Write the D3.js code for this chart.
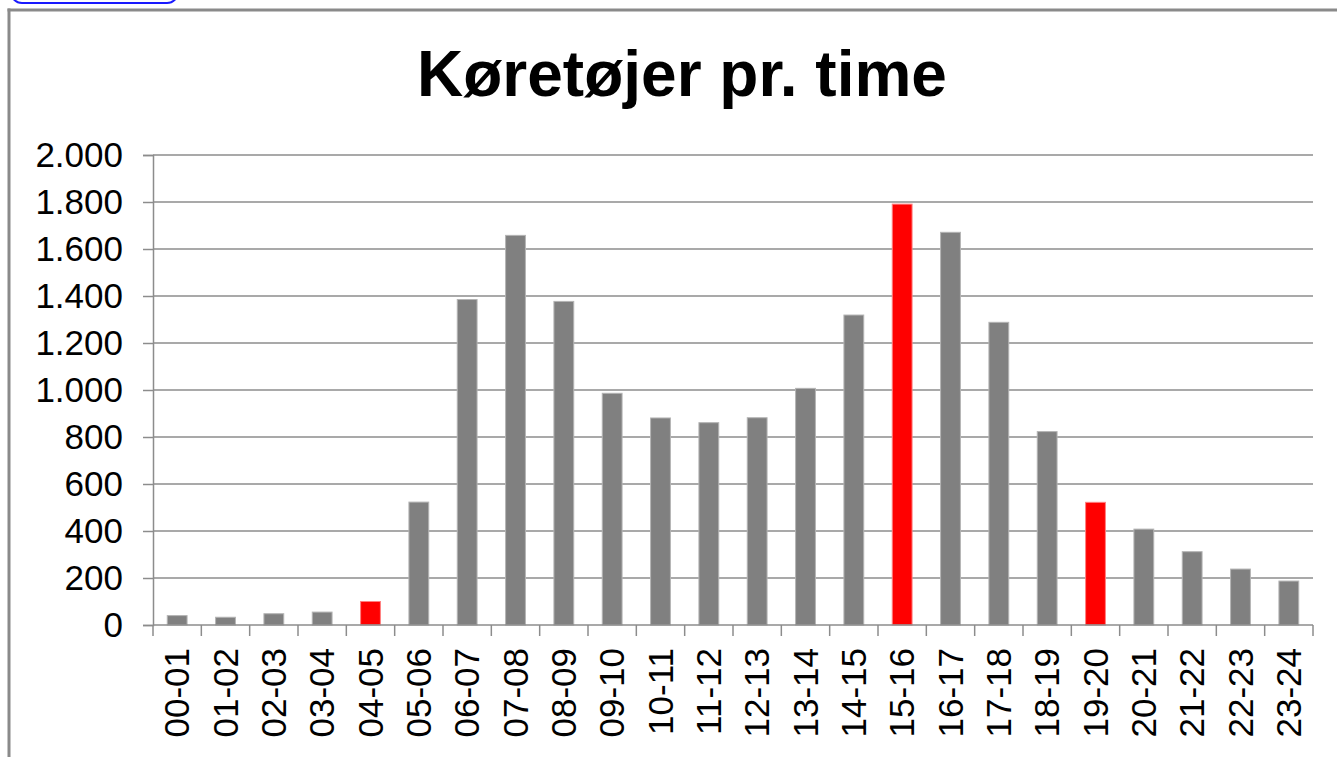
<!DOCTYPE html>
<html>
<head>
<meta charset="utf-8">
<script src="https://cdn.jsdelivr.net/npm/d3@7"></script>
<style>
  html, body { margin: 0; padding: 0; background: #ffffff; }
  svg { display: block; }
  text { font-family: "Liberation Sans", Arial, sans-serif; }
</style>
</head>
<body>
<script>
const title = "Køretøjer pr. time";
const categories = ["00-01","01-02","02-03","03-04","04-05","05-06","06-07","07-08","08-09","09-10","10-11","11-12","12-13","13-14","14-15","15-16","16-17","17-18","18-19","19-20","20-21","21-22","22-23","23-24"];
const values = [40, 33, 48, 55, 100, 523, 1385, 1658, 1377, 986, 881, 861, 882, 1007, 1319, 1791, 1671, 1288, 823, 522, 408, 312, 238, 187];
const highlighted = ["04-05", "15-16", "19-20"];
const yTicks = [0, 200, 400, 600, 800, 1000, 1200, 1400, 1600, 1800, 2000];

const W = 1337, H = 757;
const svg = d3.select("body").append("svg").attr("width", W).attr("height", H);

// outer frame (partial)
svg.append("rect").attr("x", 11).attr("y", -20).attr("width", 167).attr("height", 23)
  .attr("rx", 11).attr("fill", "#fff").attr("stroke", "#1a1aff").attr("stroke-width", 2);
svg.append("line").attr("x1", 9).attr("x2", 9).attr("y1", 8.5).attr("y2", H)
  .attr("stroke", "#8a8a8a").attr("stroke-width", 3);
svg.append("line").attr("x1", 7.5).attr("x2", W).attr("y1", 10).attr("y2", 10)
  .attr("stroke", "#8a8a8a").attr("stroke-width", 3);

const pLeft = 153, pRight = 1313, pTop = 155, pBottom = 625;

const x = d3.scaleBand().domain(categories).range([pLeft, pRight]).padding(0);
const y = d3.scaleLinear().domain([0, 2000]).range([pBottom, pTop]);

const loc = d3.formatLocale({ decimal: ",", thousands: ".", grouping: [3], currency: ["", ""] });
const fmt = loc.format(",d");

// title
svg.append("text").attr("x", 682).attr("y", 96).attr("text-anchor", "middle")
  .attr("font-size", 64).attr("font-weight", "bold").attr("fill", "#000").text(title);

// gridlines
svg.append("g").selectAll("line").data(yTicks.filter(d => d > 0)).join("line")
  .attr("x1", pLeft).attr("x2", pRight)
  .attr("y1", d => y(d)).attr("y2", d => y(d))
  .attr("stroke", "#8c8c8c").attr("stroke-width", 1.5);

// y axis
const yAxis = svg.append("g").attr("transform", `translate(${pLeft},0)`)
  .call(d3.axisLeft(y).tickValues(yTicks).tickFormat(fmt).tickSize(10).tickPadding(20));
yAxis.select(".domain").attr("stroke", "#8c8c8c").attr("stroke-width", 1.5);
yAxis.selectAll(".tick line").attr("stroke", "#8c8c8c").attr("stroke-width", 1.5);
yAxis.selectAll("text").attr("font-size", 35).attr("fill", "#000")
  .attr("font-family", "'Liberation Sans', Arial, sans-serif");

// bars
const bw = x.bandwidth() * 0.41;
svg.append("g").selectAll("rect").data(categories).join("rect")
  .attr("x", (d) => x(d) + x.bandwidth() / 2 - bw / 2)
  .attr("width", bw)
  .attr("y", (d, i) => y(values[i]))
  .attr("height", (d, i) => y(0) - y(values[i]))
  .attr("fill", d => highlighted.includes(d) ? "#ff0000" : "#808080")
  .attr("stroke", d => highlighted.includes(d) ? "#ff8080" : "#b4b4b4")
  .attr("stroke-width", 1);

// x axis
const boundaries = categories.map(c => x(c)).concat([pRight]);
const xAxisG = svg.append("g").attr("transform", `translate(0,${pBottom})`);
xAxisG.append("line").attr("x1", pLeft).attr("x2", pRight).attr("y1", 0).attr("y2", 0)
  .attr("stroke", "#8c8c8c").attr("stroke-width", 1.5);
xAxisG.selectAll("line.tk").data(boundaries).join("line").attr("class", "tk")
  .attr("x1", d => d).attr("x2", d => d).attr("y1", 0).attr("y2", 11)
  .attr("stroke", "#8c8c8c").attr("stroke-width", 1.5);
xAxisG.selectAll("text").data(categories).join("text")
  .attr("transform", d => `translate(${x(d) + x.bandwidth() / 2},23) rotate(-90)`)
  .attr("text-anchor", "end").attr("dy", "0.35em")
  .attr("font-size", 35).attr("fill", "#000").text(d => d);
</script>
</body>
</html>
